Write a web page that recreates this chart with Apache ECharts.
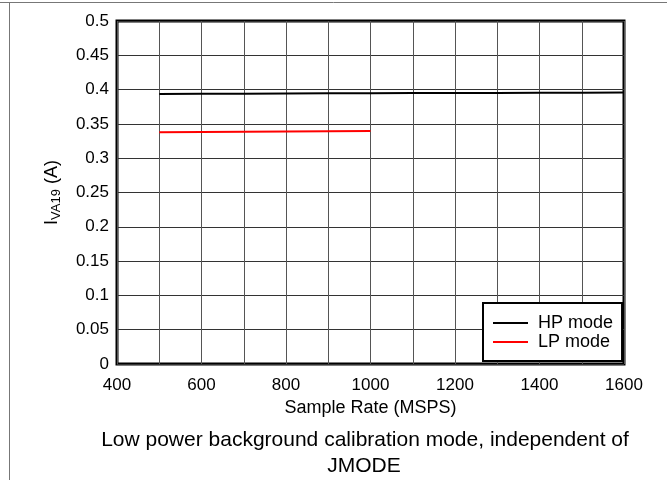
<!DOCTYPE html>
<html><head><meta charset="utf-8">
<script src="https://cdn.jsdelivr.net/npm/echarts@6/dist/echarts.min.js"></script>
<style>html,body{margin:0;padding:0;background:#fff}#c{width:667px;height:480px}</style>
</head><body><div id="c"></div>
<script>
const hpRates = [500, 600, 700, 800, 900, 1000, 1100, 1200, 1300, 1400, 1500, 1600];
const hpCurrent = [0.3935, 0.3938, 0.394, 0.3943, 0.3945, 0.3947, 0.3949, 0.395, 0.3952, 0.3953, 0.3955, 0.3956];
const lpRates = [500, 600, 700, 800, 900, 1000];
const lpCurrent = [0.3378, 0.3382, 0.3386, 0.339, 0.3393, 0.3397];
const seriesNames = ['HP mode', 'LP mode'];
const caption1 = 'Low power background calibration mode, independent of';
const caption2 = 'JMODE';

const chart = echarts.init(document.getElementById('c'));
const font = 'Liberation Sans, Arial, sans-serif';
chart.setOption({
  animation: false,
  backgroundColor: '#fff',
  grid: { left: 117, top: 21, right: 43, bottom: 116, show: true, borderColor: '#000', borderWidth: 3, containLabel: false },
  xAxis: {
    type: 'value', min: 400, max: 1600, interval: 100,
    axisLine: { show: false }, axisTick: { show: false },
    splitLine: { show: true, lineStyle: { color: '#555', width: 1 } },
    axisLabel: { color: '#000', fontFamily: font, fontSize: 17, margin: 13,
      formatter: v => (v % 200 === 0 ? String(v) : '') },
    name: 'Sample Rate (MSPS)', nameLocation: 'middle', nameGap: 31,
    nameTextStyle: { color: '#000', fontFamily: font, fontSize: 18 }
  },
  yAxis: {
    type: 'value', min: 0, max: 0.5, interval: 0.05,
    axisLine: { show: false }, axisTick: { show: false },
    splitLine: { show: true, lineStyle: { color: '#333', width: 1 } },
    axisLabel: { color: '#000', fontFamily: font, fontSize: 17, margin: 8 },
    name: 'I{sub|VA19} (A)', nameLocation: 'middle', nameGap: 54, nameRotate: 90,
    nameTextStyle: { color: '#000', fontFamily: font, fontSize: 18,
      rich: { sub: { fontFamily: font, fontSize: 13, verticalAlign: 'bottom', padding: [9, 0, 0, 0], color: '#000' } } }
  },
  legend: {
    orient: 'vertical', left: 483, top: 303,
    data: seriesNames,
    backgroundColor: '#fff', borderColor: '#000', borderWidth: 2,
    padding: [11, 9, 10, 10], itemGap: 1, itemWidth: 35, itemHeight: 18,
    icon: 'path://M0,8 L35,8 L35,10 L0,10 Z',
    textStyle: { color: '#000', fontFamily: font, fontSize: 18, padding: [0, 0, 0, 5] }
  },
  graphic: [
    { type: 'text', x: 365, y: 440, style: { text: caption1, fill: '#000', font: '21px Liberation Sans, Arial, sans-serif', textAlign: 'center', textVerticalAlign: 'middle' } },
    { type: 'text', x: 364, y: 466, style: { text: caption2, fill: '#000', font: '21px Liberation Sans, Arial, sans-serif', textAlign: 'center', textVerticalAlign: 'middle' } },
    { type: 'line', shape: { x1: 0, y1: 2.5, x2: 667, y2: 2.5 }, style: { stroke: '#777', lineWidth: 1 } },
    { type: 'line', shape: { x1: 9.5, y1: 2, x2: 9.5, y2: 480 }, style: { stroke: '#777', lineWidth: 1 } }
  ],
  series: [
    { name: seriesNames[0], type: 'line', data: hpRates.map((x, i) => [x, hpCurrent[i]]), showSymbol: false,
      lineStyle: { color: '#000', width: 2 }, itemStyle: { color: '#000' }, z: 5 },
    { name: seriesNames[1], type: 'line', data: lpRates.map((x, i) => [x, lpCurrent[i]]), showSymbol: false,
      lineStyle: { color: '#ff0000', width: 2 }, itemStyle: { color: '#ff0000' }, z: 5 }
  ]
});
</script></body></html>
